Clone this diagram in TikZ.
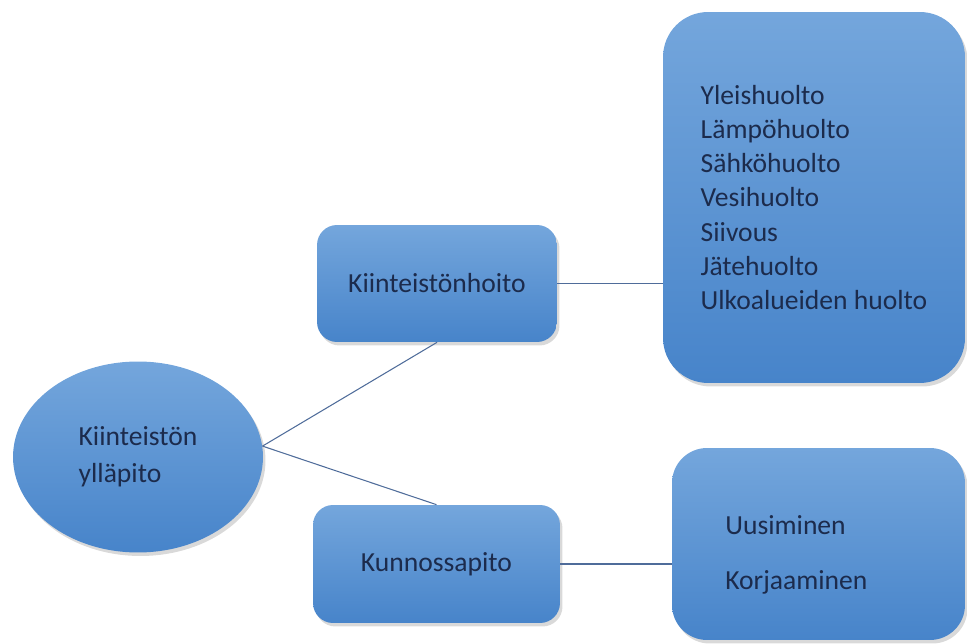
\documentclass[tikz,border=0pt]{standalone}
\usepackage{fontspec}
\setmainfont{Carlito}
\usepackage{xcolor}
\usetikzlibrary{shapes.geometric, positioning, calc, shadows}

\definecolor{fillTop}{HTML}{74A6DC}
\definecolor{fillMid}{HTML}{5797DB}
\definecolor{fillBot}{HTML}{4784CA}
\definecolor{inkText}{HTML}{1C2B4C}
\definecolor{linkLine}{HTML}{4F6C9A}

\begin{document}
\begin{tikzpicture}[
    x=0.02cm, y=-0.02cm,
    shade/.style={top color=fillTop, middle color=fillMid, bottom color=fillBot, draw=none,
        drop shadow={opacity=0.3, shadow xshift=0.05cm, shadow yshift=-0.07cm}},
    txt/.style={font=\fontsize{15.7}{19.6}\selectfont, text=inkText},
    box/.style={shade, txt, rounded corners=0.4cm, align=center},
    listbox/.style={shade, txt, align=left},
    link/.style={draw=linkLine, line width=0.6pt}
]
    \useasboundingbox (0,0) rectangle (967,644);

    % Root
    \node[shade, txt, ellipse, minimum width=5cm, minimum height=3.82cm, align=left] (yllapito) at (138,457)
        {Kiinteistön\\[1.4pt]ylläpito};

    % Second level
    \node[box, minimum width=4.8cm, minimum height=2.34cm] (hoito) at (437,283.5) {Kiinteistönhoito};
    \node[box, minimum width=4.94cm, minimum height=2.36cm] (kunnossa) at (436.5,564) {Kunnossapito};

    % Task lists
    \node[listbox, rounded corners=0.9cm, minimum width=6.04cm, minimum height=7.42cm] (huolto) at (814,197.5)
        {Yleishuolto\\[-0.2pt]Lämpöhuolto\\[-0.2pt]Sähköhuolto\\[-0.2pt]Vesihuolto\\[-0.2pt]Siivous\\[-0.2pt]Jätehuolto\\[-0.2pt]Ulkoalueiden huolto};
    \node[listbox, rounded corners=0.7cm, minimum width=5.86cm, minimum height=3.84cm] (korjaus) at (818.5,544) {};
    \node[txt, align=left, anchor=west, inner sep=0pt] (korjausteksti) at (725,555)
        {Uusiminen\\[12pt]Korjaaminen};

    % Connectors
    \draw[link] (yllapito.5) -- (hoito.south);
    \draw[link] (yllapito.5) -- (kunnossa.north);
    \draw[link] (hoito.east) -- (hoito.east -| huolto.west);
    \draw[link] (kunnossa.east) -- (kunnossa.east -| korjaus.west);

\end{tikzpicture}
\end{document}
